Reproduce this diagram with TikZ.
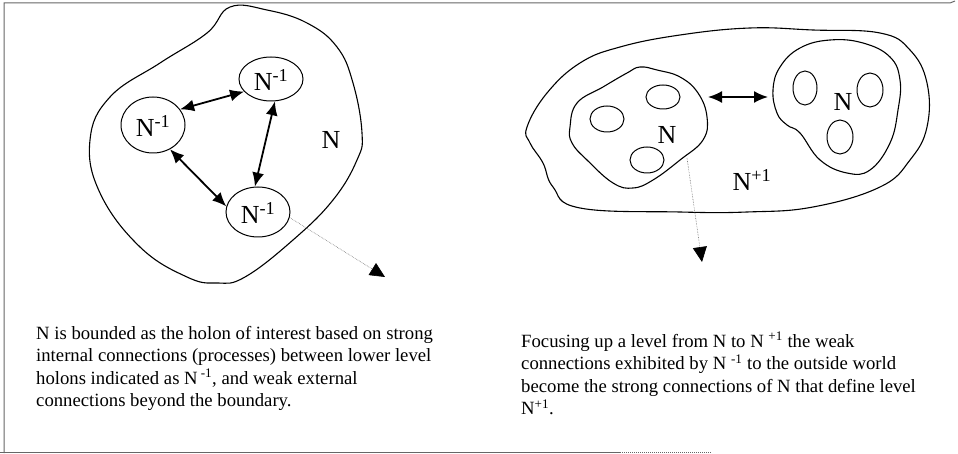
\documentclass[tikz,border=0pt]{standalone}
\usepackage{fontspec}
\setmainfont{Liberation Serif}
\usetikzlibrary{arrows.meta,shapes.geometric}
\begin{document}
\begin{tikzpicture}[x=1pt,y=-1pt,
  blob/.style={draw=black,line width=1.1pt},
  sub/.style={draw=black,line width=1pt,ellipse,inner sep=0pt},
  lbl/.style={font=\fontsize{26}{26}\selectfont,inner sep=0pt},
  strong/.style={line width=1.8pt,{Latex[length=14pt,width=12pt]}-{Latex[length=14pt,width=12pt]}},
  weak/.style={draw=black!55,line width=0.6pt,densely dotted,-{Triangle[length=15pt,width=14pt,fill=black,color=black]}},
  para/.style={font=\fontsize{18.7}{22.5}\selectfont,align=left,inner sep=0pt,anchor=base west},
  frame/.style={draw=black!60,line width=1pt}]
\useasboundingbox (0,0) rectangle (958,454);
% frame
\draw[frame] (4,453) -- (4,3) -- (950,3) -- (955,1);
\draw[frame] (0,452) -- (620,452);
\draw[frame,densely dotted] (620,452) -- (712,452);
% ---------- left diagram ----------
\draw[blob] plot[smooth cycle,tension=0.7] coordinates {
 (230,7) (207,33) (160,63) (110,97) (90,140) (100,193) (140,247) (187,277)
 (217,283) (245,277) (293,240) (333,200) (357,160) (362,133) (353,83)
 (337,47) (307,23) (267,10)};
\node[sub,minimum width=64pt,minimum height=44pt] (nt) at (271,79) {};
\node[sub,minimum width=64pt,minimum height=56pt] (nl) at (153,125) {};
\node[sub,minimum width=64pt,minimum height=50pt] (nb) at (258,212) {};
\node[lbl] (tt) at (271,80) {N\textsuperscript{-1}};
\node[lbl] (tl) at (153,126) {N\textsuperscript{-1}};
\node[lbl] (tb) at (258,213) {N\textsuperscript{-1}};
\node[lbl] (nlab) at (331,140) {N};
\draw[strong] (nl.30) -- (nt.205);
\draw[strong] (nt.-80) -- (nb.97);
\draw[strong] (nl.-55) -- (nb.170);
\coordinate (outL) at (385,277);
\draw[weak] (nb.-10) -- (outL);
% ---------- right diagram ----------
\draw[blob] plot[smooth cycle,tension=0.7] coordinates {
 (527,127) (547,93) (580,63) (620,47) (680,35) (750,28) (813,30) (880,33)
 (910,50) (927,83) (927,127) (910,160) (880,187) (813,207) (747,212)
 (680,212) (580,208) (553,187) (543,163) (530,143)};
\draw[blob] plot[smooth cycle,tension=0.7] coordinates {
 (570,127) (577,103) (603,87) (627,73) (640,67) (657,70) (680,77) (698,93)
 (707,117) (703,140) (680,160) (653,180) (633,188) (613,183) (587,160) (572,143)};
\draw[blob] plot[smooth cycle,tension=0.7] coordinates {
 (773,90) (780,67) (800,48) (830,40) (863,43) (890,57) (900,80) (898,110)
 (890,143) (870,170) (847,173) (820,160) (800,133) (787,125) (777,113)};
\node[sub,minimum width=34pt,minimum height=24pt] (a1) at (663,97) {};
\node[sub,minimum width=34pt,minimum height=26pt] (a2) at (607,119) {};
\node[sub,minimum width=34pt,minimum height=26pt] (a3) at (647,160) {};
\node[sub,minimum width=24pt,minimum height=34pt] (b1) at (805,88) {};
\node[sub,minimum width=26pt,minimum height=34pt] (b2) at (870,90) {};
\node[sub,minimum width=26pt,minimum height=34pt] (b3) at (840,137) {};
\node[lbl] (na) at (667,135) {N};
\node[lbl] (nbb) at (843,102) {N};
\node[lbl] (np) at (752,180) {N\textsuperscript{+1}};
\coordinate (hl) at (708,97);
\coordinate (hr) at (768,97);
\draw[strong] (hl) -- (hr);
\coordinate (srcR) at (687,158);
\coordinate (outR) at (702,262);
\draw[weak] (srcR) -- (outR);
% ---------- texts ----------
\node[para] (textL) at (36,406.5) {N is bounded as the holon of interest based on strong\\
internal connections (processes) between lower level\\
holons indicated as N\,\textsuperscript{-1}, and weak external\\
connections beyond the boundary.};
\node[para] (textR) at (521,414.5) {Focusing up a level from N to N\ \textsuperscript{+1} the weak\\
connections exhibited by N\ \textsuperscript{-1} to the outside world\\
become the strong connections of N that define level\\
N\textsuperscript{+1}.};
\end{tikzpicture}
\end{document}
